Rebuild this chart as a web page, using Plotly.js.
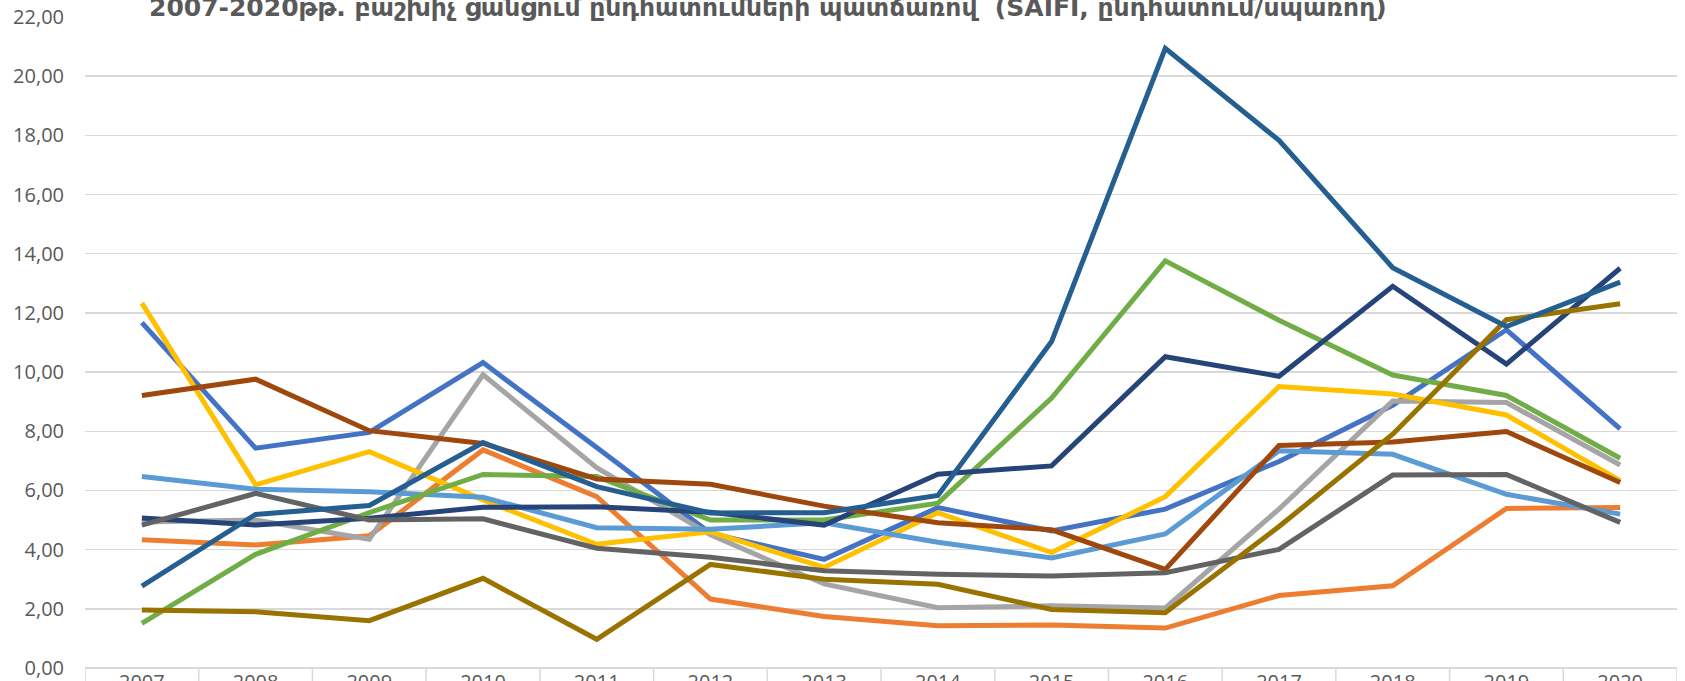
<!DOCTYPE html>
<html>
<head>
<meta charset="utf-8">
<script src="https://cdn.plot.ly/plotly-3.0.1.min.js"></script>
<style>html,body{margin:0;padding:0;background:#fff;}#chart{width:1685px;height:681px;}</style>
</head>
<body>
<div id="chart"></div>
<script>
const years = ['2007','2008','2009','2010','2011','2012','2013','2014','2015','2016','2017','2018','2019','2020'];

const series1 = [11.67, 7.43, 7.96, 10.32, 7.45, 4.55, 3.67, 5.42, 4.63, 5.37, 6.98, 8.88, 11.43, 8.08];
const series2 = [4.33, 4.16, 4.47, 7.37, 5.79, 2.33, 1.74, 1.43, 1.45, 1.35, 2.45, 2.78, 5.39, 5.42];
const series3 = [4.93, 5.00, 4.35, 9.91, 6.77, 4.50, 2.84, 2.04, 2.10, 2.03, 5.37, 9.02, 8.97, 6.86];
const series4 = [12.33, 6.19, 7.31, 5.68, 4.18, 4.60, 3.40, 5.25, 3.90, 5.79, 9.51, 9.26, 8.55, 6.33];
const series5 = [6.47, 6.04, 5.96, 5.77, 4.74, 4.69, 4.91, 4.25, 3.72, 4.53, 7.34, 7.22, 5.87, 5.20];
const series6 = [1.51, 3.84, 5.25, 6.54, 6.47, 5.00, 5.00, 5.57, 9.12, 13.76, 11.75, 9.90, 9.21, 7.09];
const series7 = [5.07, 4.83, 5.06, 5.43, 5.45, 5.26, 4.83, 6.55, 6.83, 10.52, 9.86, 12.90, 10.27, 13.51];
const series8 = [9.21, 9.76, 8.02, 7.59, 6.39, 6.21, 5.47, 4.91, 4.67, 3.33, 7.52, 7.64, 7.99, 6.27];
const series9 = [4.83, 5.90, 5.00, 5.04, 4.05, 3.74, 3.29, 3.17, 3.11, 3.22, 4.01, 6.52, 6.54, 4.92];
const series10 = [1.96, 1.90, 1.60, 3.03, 0.97, 3.50, 3.00, 2.83, 1.98, 1.87, 4.78, 7.90, 11.77, 12.31];
const series11 = [2.77, 5.19, 5.49, 7.62, 6.13, 5.24, 5.25, 5.83, 11.03, 20.94, 17.83, 13.53, 11.54, 13.04];

const seriesNames = ['Շարք 1','Շարք 2','Շարք 3','Շարք 4','Շարք 5','Շարք 6','Շարք 7','Շարք 8','Շարք 9','Շարք 10','Շարք 11'];
const seriesValues = [series1, series2, series3, series4, series5, series6, series7, series8, series9, series10, series11];
const colors = ['#4472C4','#ED7D31','#A5A5A5','#FFC000','#5B9BD5','#70AD47','#264478','#9E480E','#636363','#997300','#255E91'];

const titleText = '2007-2020թթ. բաշխիչ ցանցում ընդհատումների պատճառով  (SAIFI, ընդհատում/սպառող)';

const traces = seriesValues.map((vals, i) => ({
  type: 'scatter',
  mode: 'lines',
  name: seriesNames[i],
  x: years,
  y: vals,
  line: {color: colors[i], width: 5},
  hoverinfo: 'x+y+name'
}));

const dividers = [];
for (let i = 0; i <= years.length; i++) {
  dividers.push({
    type: 'line', xref: 'x', yref: 'paper',
    x0: i - 0.5, x1: i - 0.5, y0: 0, y1: -0.04,
    line: {color: '#D9D9D9', width: 1.5}
  });
}

const tickFont = {family: 'Open Sans, DejaVu Sans, sans-serif', size: 20, color: '#595959'};

const layout = {
  width: 1685,
  height: 681,
  margin: {l: 85, r: 8, t: 17, b: 13, pad: 0},
  paper_bgcolor: '#ffffff',
  plot_bgcolor: '#ffffff',
  showlegend: false,
  separators: ', ',
  xaxis: {
    type: 'category',
    range: [-0.5, years.length - 0.5],
    showgrid: false,
    zeroline: false,
    showline: false,
    ticks: '',
    tickfont: tickFont,
    fixedrange: true
  },
  yaxis: {
    range: [0, 22],
    dtick: 2,
    tick0: 0,
    tickformat: '.2f',
    showgrid: true,
    gridcolor: '#D9D9D9',
    gridwidth: 1.5,
    zeroline: true,
    zerolinecolor: '#D9D9D9',
    zerolinewidth: 2,
    showline: false,
    ticks: '',
    ticklabelstandoff: 20,
    tickfont: tickFont,
    fixedrange: true
  },
  shapes: dividers,
  annotations: [{
    text: '<b>' + titleText + '</b>',
    xref: 'paper', yref: 'paper',
    x: 0.429, y: 0.989,
    xanchor: 'center', yanchor: 'bottom',
    showarrow: false,
    font: {family: 'DejaVu Sans, Noto Sans, sans-serif', size: 25, color: '#595959'}
  }]
};

Plotly.newPlot('chart', traces, layout, {displayModeBar: false, staticPlot: true});
</script>
</body>
</html>
